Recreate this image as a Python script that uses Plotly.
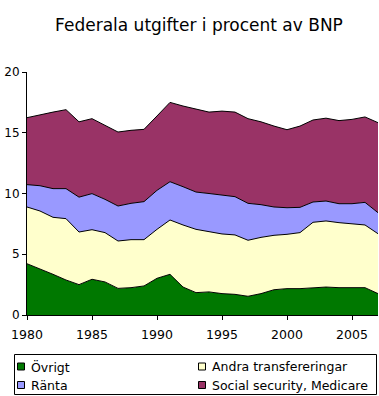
import plotly.graph_objects as go

years = list(range(1980, 2008))
ovrigt = [4.22, 3.81, 3.35, 2.88, 2.5, 2.94, 2.72, 2.19, 2.25, 2.39, 3.02, 3.35, 2.3, 1.84,
          1.9, 1.76, 1.7, 1.54, 1.76, 2.08, 2.17, 2.17, 2.22, 2.3, 2.25, 2.25, 2.25, 1.76]
andra = [4.67, 4.75, 4.69, 5.05, 4.33, 4.08, 4.06, 3.9, 3.95, 3.81, 4.03, 4.47, 5.11, 5.21,
         4.96, 4.91, 4.89, 4.61, 4.63, 4.48, 4.47, 4.61, 5.41, 5.44, 5.35, 5.27, 5.16, 4.93]
ranta = [1.84, 2.08, 2.36, 2.47, 2.87, 2.97, 2.74, 2.88, 2.99, 3.13, 3.21, 3.15, 3.15, 3.07,
         3.14, 3.18, 3.15, 3.04, 2.69, 2.33, 2.19, 2.08, 1.67, 1.64, 1.56, 1.64, 1.86, 1.73]
social = [5.51, 5.86, 6.3, 6.5, 6.2, 6.17, 6.12, 6.09, 6.01, 5.95, 6.12, 6.53, 6.64, 6.81,
          6.7, 6.93, 6.96, 6.97, 6.82, 6.66, 6.42, 6.69, 6.75, 6.82, 6.84, 6.94, 7.03, 7.41]

series_names = ["Övrigt", "Andra transfereringar", "Ränta", "Social security, Medicare"]
series_values = [ovrigt, andra, ranta, social]
colors = ["#007800", "#FFFFCC", "#9999FF", "#993366"]

x_ticks = [1980, 1985, 1990, 1995, 2000, 2005]
y_ticks = [0, 5, 10, 15, 20]

W, H = 379, 396
ML, MR, MT, MB = 27, 1, 72, 81
PW, PH = W - ML - MR, H - MT - MB


def px(x):
    return (x - ML) / PW


def py(y):
    return (H - MB - y) / PH


font = "DejaVu Sans, Verdana, sans-serif"

fig = go.Figure()
for name, vals, col in zip(series_names, series_values, colors):
    fig.add_trace(go.Scatter(
        x=years, y=vals, name=name, stackgroup="one", mode="lines",
        line=dict(color="black", width=1), fillcolor=col, showlegend=False,
        hoverinfo="skip",
    ))

# manual legend (2 columns, row-major)
shapes = [dict(type="rect", xref="paper", yref="paper",
               x0=px(14.5), x1=px(376.5), y0=py(354.5), y1=py(394.5),
               line=dict(color="black", width=1), fillcolor="white", layer="above")]
annotations = []
col_x = [17, 198]
row_y = [366.5, 385]
for i, (name, col) in enumerate(zip(series_names, colors)):
    cx = col_x[i % 2]
    cy = row_y[i // 2]
    shapes.append(dict(type="rect", xref="paper", yref="paper",
                       x0=px(cx + 0.5), x1=px(cx + 7.5), y0=py(cy - 3.5), y1=py(cy + 3.5),
                       line=dict(color="black", width=1), fillcolor=col, layer="above"))
    annotations.append(dict(text=name, xref="paper", yref="paper", x=px(cx + 12),
                            y=py(cy), xanchor="left", yanchor="middle", showarrow=False,
                            font=dict(family=font, size=12.5, color="black")))

fig.update_layout(
    width=W, height=H,
    margin=dict(l=ML, r=MR, t=MT, b=MB, autoexpand=False),
    paper_bgcolor="white", plot_bgcolor="white",
    font=dict(family=font, size=12, color="black"),
    title=dict(text="Federala utgifter i procent av BNP", x=px(199), xanchor="center",
               xref="paper", y=1 - 25 / H, yanchor="middle",
               font=dict(family=font, size=17, color="black")),
    xaxis=dict(range=[1980, 2007], tickvals=x_ticks, showline=True, linecolor="black",
               linewidth=1, ticks="outside", ticklen=4, tickcolor="black",
               showgrid=False, zeroline=False, tickfont=dict(size=12.5), ticklabelstandoff=4),
    yaxis=dict(range=[0, 20], tickvals=y_ticks, showline=True, linecolor="black",
               linewidth=1, ticks="outside", ticklen=4, tickcolor="black",
               showgrid=False, zeroline=False, tickfont=dict(size=12)),
    shapes=shapes, annotations=annotations,
    showlegend=False,
)
fig.write_html("out.html", config={"displayModeBar": False},
               post_script="document.body.style.margin='0';document.body.style.overflow='hidden';")
